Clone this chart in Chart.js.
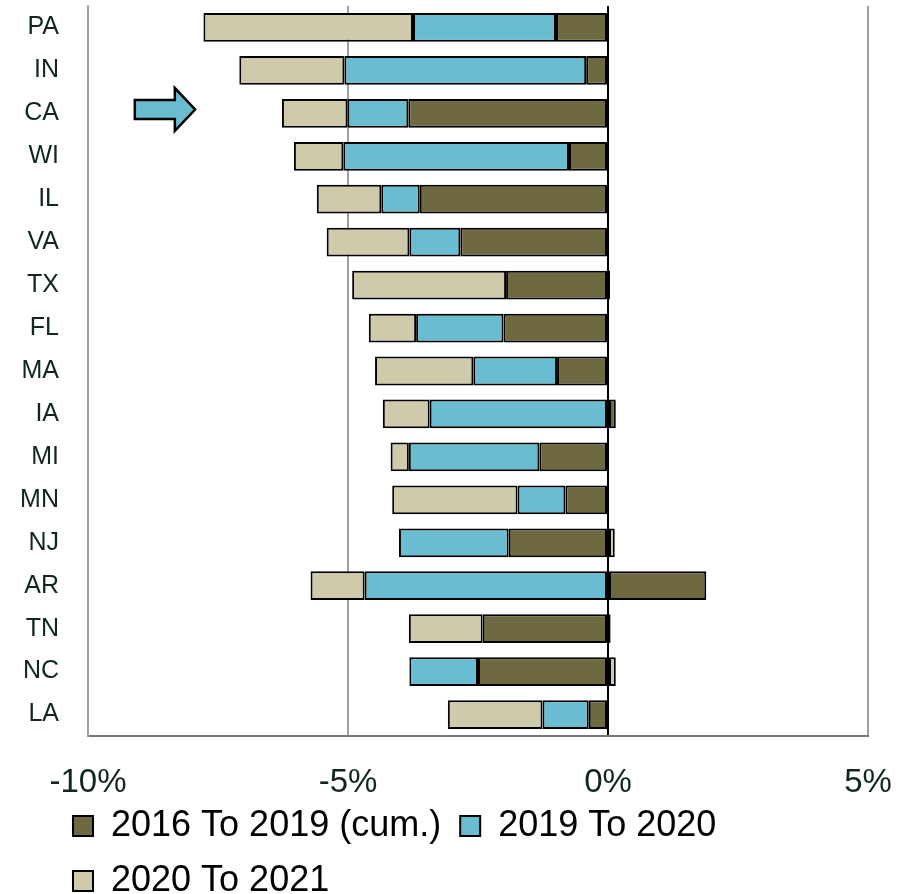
<!DOCTYPE html>
<html>
<head>
<meta charset="utf-8">
<title>Employment change by state</title>
<script src="https://cdn.jsdelivr.net/npm/chart.js@4.4.1/dist/chart.umd.min.js"></script>
<style>
  html, body { margin: 0; padding: 0; background: #fff; }
  #wrap { width: 897px; height: 894px; }
</style>
</head>
<body>
<div id="wrap"><canvas id="stateChart"></canvas></div>
<script>
// values in percent
const states = ['PA', 'IN', 'CA', 'WI', 'IL', 'VA', 'TX', 'FL', 'MA', 'IA', 'MI', 'MN', 'NJ', 'AR', 'TN', 'NC', 'LA'];
const change2016to2019 = [-1.00, -0.42, -3.84, -0.75, -3.62, -2.84, -1.96, -2.01, -0.98, 0.15, -1.32, -0.82, -1.91, 1.89, -2.41, -2.50, -0.37];
const change2019to2020 = [-2.75, -4.65, -1.17, -4.34, -0.74, -0.98, 0.04, -1.68, -1.61, -3.43, -2.51, -0.92, -2.11, -4.68, 0.05, -1.32, -0.89];
const change2020to2021 = [-4.03, -2.02, -1.26, -0.95, -1.24, -1.59, -2.96, -0.91, -1.89, -0.90, -0.35, -2.41, 0.13, -1.04, -1.42, 0.15, -1.82];
const seriesNames = ['2016 To 2019 (cum.)', '2019 To 2020', '2020 To 2021'];
const xTicks = [-10, -5, 0, 5];

const highlighted = 'CA';
// arrow drawn in axis units (tail, start of head, tip)
const arrowX = [-9.1, -8.33, -7.94];

const fontFamily = "'Liberation Sans', Arial, sans-serif";
const textColor = '#10261e';

const arrowPlugin = {
    id: 'stateArrow',
    afterLayout(chart) {
        // legend sits a bit under the tick labels and starts indented
        const lg = chart.legend;
        const h = lg.bottom - lg.top;
        lg.top = chart.chartArea.bottom + 53;
        lg.bottom = lg.top + h;
        lg.left = 54;
    },
    afterDatasetsDraw(chart) {
        const { ctx, scales: { x, y } } = chart;
        const i = states.indexOf(highlighted);
        const step = y.getPixelForValue(1) - y.getPixelForValue(0);
        const cy = y.getPixelForValue(i) - step * 0.09;
        const [x0, x1, x2] = arrowX.map(v => x.getPixelForValue(v));
        const shaft = step * 0.22;
        const head = step * 0.5;
        ctx.save();
        ctx.beginPath();
        ctx.moveTo(x0, cy - shaft);
        ctx.lineTo(x1, cy - shaft);
        ctx.lineTo(x1, cy - head);
        ctx.lineTo(x2, cy);
        ctx.lineTo(x1, cy + head);
        ctx.lineTo(x1, cy + shaft);
        ctx.lineTo(x0, cy + shaft);
        ctx.closePath();
        ctx.fillStyle = '#6abcd1';
        ctx.fill();
        ctx.lineWidth = 2.5;
        ctx.strokeStyle = '#000';
        ctx.stroke();
        ctx.restore();
    }
};

const ctx = document.getElementById('stateChart').getContext('2d');

new Chart(ctx, {
    type: 'bar',
    data: {
        labels: states,
        datasets: [
            { label: seriesNames[0], data: change2016to2019, backgroundColor: '#6e6940' },
            { label: seriesNames[1], data: change2019to2020, backgroundColor: '#6abcd1' },
            { label: seriesNames[2], data: change2020to2021, backgroundColor: '#cfcaa9' }
        ].map(ds => Object.assign(ds, {
            borderColor: '#000',
            borderWidth: 2,
            borderSkipped: false,
            barPercentage: 0.67,
            categoryPercentage: 1
        }))
    },
    options: {
        indexAxis: 'y',
        responsive: true,
        maintainAspectRatio: false,
        animation: false,
        layout: { padding: { top: 6, left: 0, right: 29, bottom: -32 } },
        scales: {
            x: {
                stacked: true,
                min: xTicks[0],
                max: xTicks[xTicks.length - 1],
                afterBuildTicks: scale => { scale.ticks = xTicks.map(v => ({ value: v })); },
                afterFit: scale => {
                    scale.height = 70;
                    scale.paddingLeft = 0;
                    scale.paddingRight = 0;
                },
                grid: {
                    color: c => (c.tick && c.tick.value === 0 ? '#000' : '#a0a0a0'),
                    lineWidth: 2,
                    drawTicks: false
                },
                border: { display: true, color: '#777', width: 2 },
                ticks: {
                    padding: 27,
                    color: textColor,
                    font: { family: fontFamily, size: 33 },
                    callback: v => v + '%'
                }
            },
            y: {
                stacked: true,
                afterFit: scale => {
                    scale.width = 88;
                    scale.paddingTop = 0;
                    scale.paddingBottom = 0;
                },
                grid: { display: false, drawTicks: false },
                border: { display: true, color: '#a0a0a0', width: 2 },
                ticks: {
                    padding: 29,
                    color: textColor,
                    font: { family: fontFamily, size: 25 }
                }
            }
        },
        plugins: {
            legend: {
                position: 'bottom',
                align: 'start',
                labels: {
                    boxWidth: 20,
                    boxHeight: 20,
                    padding: 19,
                    color: '#000',
                    font: { family: fontFamily, size: 36 }
                }
            },
            tooltip: { enabled: false }
        }
    },
    plugins: [arrowPlugin]
});
</script>
</body>
</html>
